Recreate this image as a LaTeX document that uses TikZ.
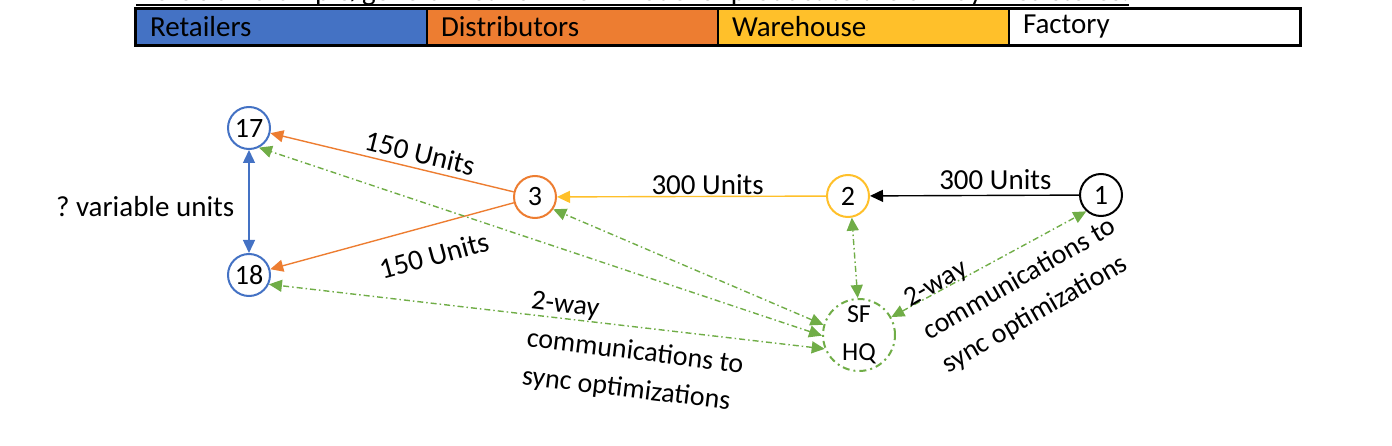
\documentclass[tikz,border=0pt]{standalone}
\usepackage{fontspec}
\setmainfont{Carlito}
\usetikzlibrary{arrows.meta}
\definecolor{retailblue}{HTML}{4472C4}
\definecolor{distorange}{HTML}{ED7D31}
\definecolor{waregold}{HTML}{FFC02A}
\definecolor{commgreen}{HTML}{70AD47}
\newcommand{\lblfont}{\fontsize{29}{38}\selectfont}
\newcommand{\syncfont}{\fontsize{28}{38}\selectfont}

\begin{document}
\begin{tikzpicture}[
    x=1pt, y=-1pt,
    >={Triangle[length=13pt, width=12pt]},
    cell/.style={draw=black, line width=1.2pt, minimum width=291pt, minimum height=36pt,
        inner xsep=14pt, inner ysep=0pt, text width=263pt, align=left, font=\lblfont},
    site/.style={circle, draw, line width=2pt, minimum size=42pt, inner sep=0pt, font=\fontsize{28}{34}\selectfont},
    hq/.style={circle, draw=commgreen, line width=2pt, dash pattern=on 7pt off 4pt on 2pt off 4pt,
        minimum size=72pt, inner sep=0pt, align=center, font=\fontsize{26}{38}\selectfont},
    flow/.style={->, line width=1.4pt},
    comm/.style={<->, draw=commgreen, line width=1.4pt, dash pattern=on 6pt off 3pt on 1.5pt off 3pt},
    note/.style={font=\lblfont, inner sep=2pt}]

    \useasboundingbox (0, 0) rectangle (1392, 446);

    % ----- heading, only its lower edge is inside the frame
    \begin{scope}
        \clip (0, 0) rectangle (1392, 446);
        \node[note, anchor=base west, inner sep=0pt] (title) at (136, 1)
            {Here's an example/general network flow model of product to the SF Bay Area stores.};
        \draw[line width=2.5pt] ([yshift=-4pt]title.base west) -- ([yshift=-4pt]title.base east);
    \end{scope}

    % ----- colour key
    \node[cell, fill=retailblue] (kretail) at (281.5, 27) {Retailers};
    \node[cell, fill=distorange] (kdist)   at (572.5, 27) {Distributors};
    \node[cell, fill=waregold]   (kware)   at (863.5, 27) {Warehouse};
    \node[cell, fill=white]      (kfact)   at (1154.5, 27) {Factory};
    \draw[line width=2.5pt] (kretail.north west) rectangle (kfact.south east);

    % ----- the network
    \node[site, draw=retailblue] (n17) at (249, 128) {17};
    \node[site, draw=retailblue] (n18) at (249, 275) {18};
    \node[site, draw=distorange] (n3)  at (535, 197) {3};
    \node[site, draw=waregold]   (n2)  at (848, 196) {2};
    \node[site, draw=black]      (n1)  at (1101, 195) {1};
    \node[hq] (hq) at (859, 335) {SF\\HQ};

    \draw[flow, draw=black] (n1) -- node[note, sloped, above, pos=0.4, yshift=3pt] {300 Units} (n2);
    \draw[flow, draw=waregold] (n2) -- node[note, above, pos=0.44, yshift=-1pt] {300 Units} (n3);
    \draw[flow, draw=distorange] (n3) -- node[note, sloped, above, pos=0.4, yshift=3pt] {150 Units} (n17);
    \draw[flow, draw=distorange] (n3) -- node[note, sloped, below=17pt, pos=0.36] {150 Units} (n18);
    \draw[<->, draw=retailblue, line width=1.4pt] (n17) -- node[note, left=12pt, yshift=-5pt] {?\ variable units} (n18);

    % ----- 2-way links with headquarters
    \draw[comm] (hq.181) -- (n17.-63);
    \draw[comm] (hq.202) -- (n18.-25);
    \draw[comm] (hq.164) -- (n3.-34);
    \draw[comm] (hq.92)  -- (n2.-80);
    \draw[comm] (hq.29)  -- (n1.-132);
    \node[note, font=\syncfont, rotate=-7, align=left] (syncL) at (635, 353) {2-way\\communications to\\sync optimizations};
    \node[note, font=\syncfont, rotate=30, align=left] (syncR) at (1020, 280) {2-way\\communications to\\sync optimizations};
\end{tikzpicture}
\end{document}
